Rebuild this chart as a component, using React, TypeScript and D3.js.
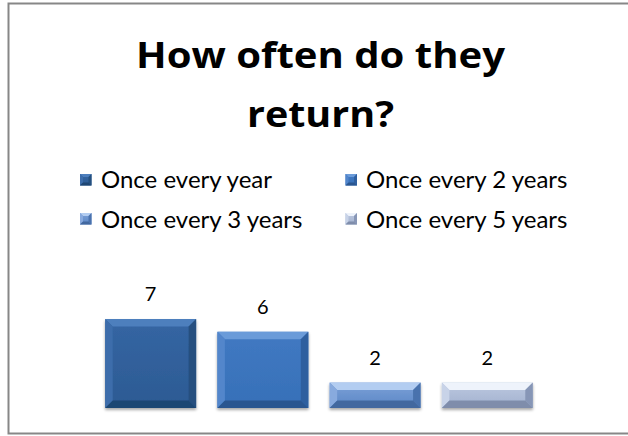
import React from "react";
import * as d3 from "d3";

const categories = ["Once every year", "Once every 2 years", "Once every 3 years", "Once every 5 years"];
const values = [7, 6, 2, 2];
const titleLines = ["How often do they", "return?"];

// palette: [face top, face bottom, top bevel, left bevel, right bevel, bottom bevel]
const palette = [
  ["#3566a3", "#2c5a93", "#4d7fbd", "#3d6dab", "#25507f", "#1f4673"],
  ["#4179c2", "#3670b8", "#6b9bd9", "#5286cb", "#2f5f9f", "#2a5690"],
  ["#7ca1d7", "#5a86c6", "#b3cdf1", "#88aade", "#4a72ad", "#42689f"],
  ["#bcc8df", "#a2b1cf", "#eef3fb", "#c8d3e8", "#8796b6", "#7f8dab"],
];

const W = 628;
const H = 436;

function Bevel({ x, y, w, h, b, c, id }: any) {
  const pts = (arr: number[][]) => arr.map((p) => p.join(",")).join(" ");
  return (
    <g>
      <defs>
        <linearGradient id={id} x1="0" y1="0" x2="0" y2="1">
          <stop offset="0" stopColor={c[0]} />
          <stop offset="1" stopColor={c[1]} />
        </linearGradient>
      </defs>
      <rect x={x} y={y} width={w} height={h} fill={`url(#${id})`} />
      <polygon points={pts([[x, y], [x + w, y], [x + w - b, y + b], [x + b, y + b]])} fill={c[2]} />
      <polygon points={pts([[x, y], [x + b, y + b], [x + b, y + h - b], [x, y + h]])} fill={c[3]} />
      <polygon points={pts([[x + w, y], [x + w - b, y + b], [x + w - b, y + h - b], [x + w, y + h]])} fill={c[4]} />
      <polygon points={pts([[x, y + h], [x + w, y + h], [x + w - b, y + h - b], [x + b, y + h - b]])} fill={c[5]} />
    </g>
  );
}

export default function App() {
  const x = d3.scaleBand<string>().domain(categories).range([94, 544]).paddingInner(0.19).paddingOuter(0.1);
  const y = d3.scaleLinear().domain([0, 8]).range([408, 306.4]);
  const font = "Lato, 'Open Sans', sans-serif";
  const titleFont = "'Open Sans', Lato, sans-serif";
  const titleWidths = [369, 147];

  const legendPos = [
    { mx: 80, tx: 101, my: 174, ty: 188 },
    { mx: 345.5, tx: 366, my: 174, ty: 188 },
    { mx: 80, tx: 101, my: 213, ty: 228 },
    { mx: 345.5, tx: 366, my: 213, ty: 228 },
  ];

  return (
    <svg width={W} height={H} style={{ position: "absolute", left: 0, top: 0 }}>
      <defs>
        <filter id="sh" x="-10%" y="-10%" width="120%" height="130%">
          <feGaussianBlur in="SourceAlpha" stdDeviation="1.5" />
          <feOffset dx="0" dy="1.5" result="ob" />
          <feComponentTransfer>
            <feFuncA type="linear" slope="0.35" />
          </feComponentTransfer>
          <feMerge>
            <feMergeNode />
            <feMergeNode in="SourceGraphic" />
          </feMerge>
        </filter>
      </defs>
      <rect x={0} y={0} width={W} height={H} fill="#ffffff" />
      <rect x={8.5} y={3.5} width={630} height={430} fill="#ffffff" stroke="#878787" strokeWidth={2} />

      {titleLines.map((t, i) => (
        <text
          key={i}
          x={320.5}
          y={68 + i * 59}
          textAnchor="middle"
          fontFamily={titleFont}
          fontWeight="bold"
          fontSize={36}
          textLength={titleWidths[i]}
          lengthAdjust="spacingAndGlyphs"
          fill="#000"
        >
          {t}
        </text>
      ))}

      {categories.map((c, i) => (
        <g key={c}>
          <Bevel x={legendPos[i].mx} y={legendPos[i].my} w={11.5} h={11.5} b={3} c={palette[i]} id={`lg${i}`} />
          <text x={legendPos[i].tx} y={legendPos[i].ty} fontFamily={font} fontSize={24} fill="#000">
            {c}
          </text>
        </g>
      ))}

      <g filter="url(#sh)">
        {categories.map((c, i) => {
          const bx = x(c)!;
          const by = y(values[i]);
          const bh = y(0) - by;
          return <Bevel key={c} x={bx} y={by} w={x.bandwidth()} h={bh} b={7.5} c={palette[i]} id={`bar${i}`} />;
        })}
      </g>

      {categories.map((c, i) => (
        <text
          key={c}
          x={x(c)! + x.bandwidth() / 2}
          y={y(values[i]) - 18}
          textAnchor="middle"
          fontFamily={font}
          fontSize={20}
          fill="#000"
        >
          {values[i]}
        </text>
      ))}
    </svg>
  );
}
